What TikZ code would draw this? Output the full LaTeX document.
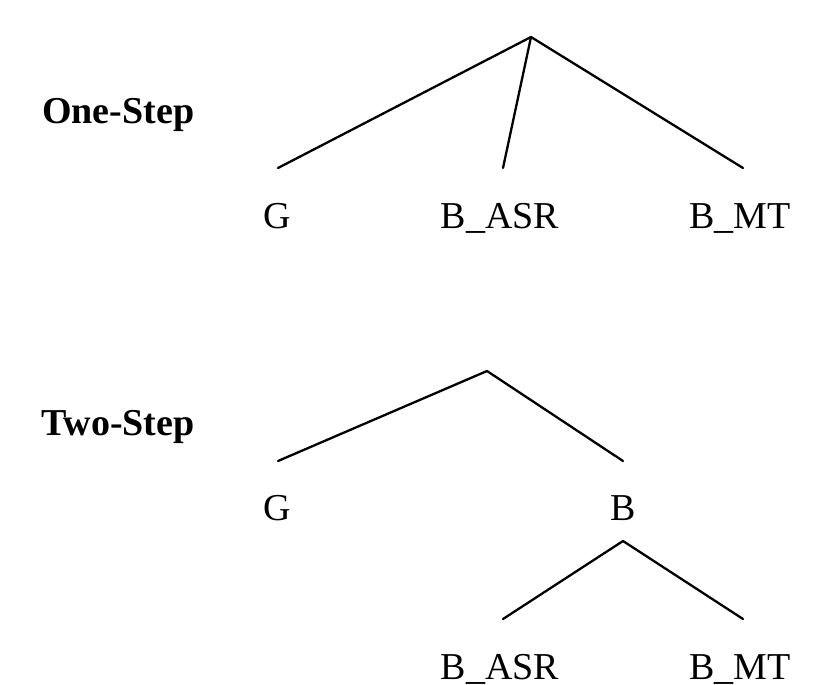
\documentclass[tikz,border=0pt]{standalone}
\usepackage{fontspec}
\setmainfont{Liberation Serif}
\begin{document}
\begin{tikzpicture}[x=1pt,y=-1pt,
  lbl/.style={font=\fontsize{38}{40}\selectfont, inner sep=0pt, anchor=base},
  ttl/.style={font=\fontsize{38}{40}\selectfont\bfseries, inner sep=0pt, anchor=base west},
  edge/.style={line width=2.3pt, line cap=round}]
\useasboundingbox[fill=white] (0,0) rectangle (827,685);
% titles
\node[ttl] (one) at (42,123) {One-Step};
\node[ttl] (two) at (41,435) {Two-Step};
% one-step tree
\coordinate (r1) at (531,37);
\coordinate (e1) at (278,168);
\coordinate (e2) at (503,168);
\coordinate (e3) at (743,168);
\node[lbl] (g1) at (277,228) {G};
\node[lbl] (ba1) at (500,228) {B\_ASR};
\node[lbl] (bm1) at (740,228) {B\_MT};
\draw[edge] (r1) -- (e1);
\draw[edge] (r1) -- (e2);
\draw[edge] (r1) -- (e3);
% two-step tree
\coordinate (r2) at (487,371);
\coordinate (f1) at (278,461);
\coordinate (f2) at (623,461);
\node[lbl] (g2) at (277,520) {G};
\node[lbl] (b2) at (623,520) {B};
\coordinate (r3) at (623,541);
\coordinate (h1) at (503,619);
\coordinate (h2) at (743,619);
\node[lbl] (ba2) at (500,679) {B\_ASR};
\node[lbl] (bm2) at (740,679) {B\_MT};
\draw[edge] (r2) -- (f1);
\draw[edge] (r2) -- (f2);
\draw[edge] (r3) -- (h1);
\draw[edge] (r3) -- (h2);
\end{tikzpicture}
\end{document}
